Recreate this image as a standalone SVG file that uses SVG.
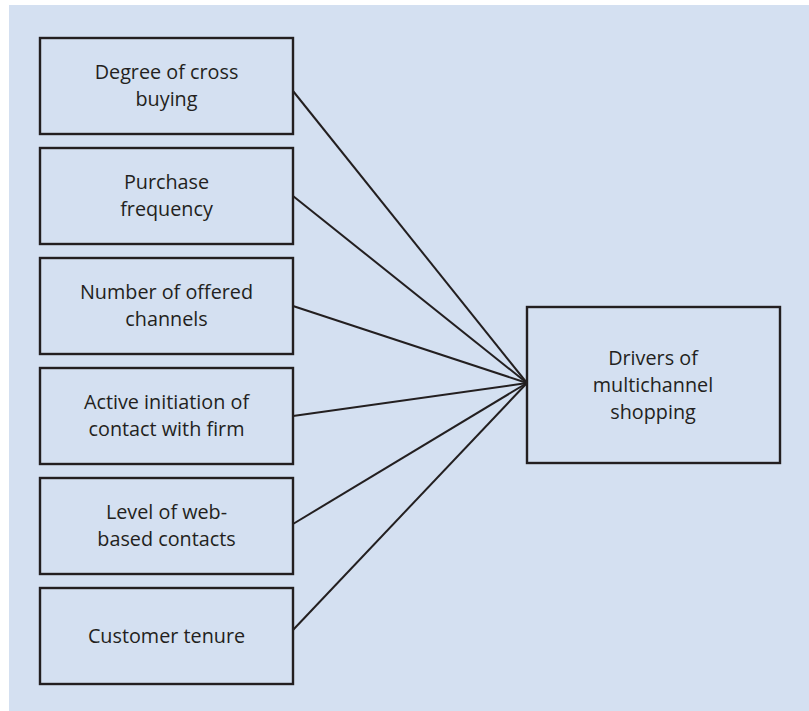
<svg xmlns="http://www.w3.org/2000/svg" width="809" height="711" viewBox="0 0 809 711">
<style>
.box{fill:none;stroke:#231f20;stroke-width:2.4}
.lbl{font-family:"Open Sans","Liberation Sans",sans-serif;font-size:19.8px;fill:#231f20;text-anchor:middle}
.con{stroke:#231f20;stroke-width:2;fill:none}
</style>
<rect x="0" y="0" width="809" height="711" fill="#ffffff"/>
<rect x="9" y="5" width="800" height="706" fill="#d4e0f1"/>
<g id="connectors">
<line class="con" x1="293" y1="91" x2="527" y2="383"/>
<line class="con" x1="293" y1="196" x2="527" y2="383"/>
<line class="con" x1="293" y1="306" x2="527" y2="383"/>
<line class="con" x1="293" y1="416" x2="527" y2="383"/>
<line class="con" x1="293" y1="524" x2="527" y2="383"/>
<line class="con" x1="293" y1="630" x2="527" y2="383"/>
</g>
<g id="n1"><rect class="box" x="40" y="38" width="253" height="96"/><text class="lbl" x="166.5" y="79">Degree of cross</text><text class="lbl" x="166.5" y="106">buying</text></g>
<g id="n2"><rect class="box" x="40" y="148" width="253" height="96"/><text class="lbl" x="166.5" y="189">Purchase</text><text class="lbl" x="166.5" y="216">frequency</text></g>
<g id="n3"><rect class="box" x="40" y="258" width="253" height="96"/><text class="lbl" x="166.5" y="299">Number of offered</text><text class="lbl" x="166.5" y="326">channels</text></g>
<g id="n4"><rect class="box" x="40" y="368" width="253" height="96"/><text class="lbl" x="166.5" y="409">Active initiation of</text><text class="lbl" x="166.5" y="436">contact with firm</text></g>
<g id="n5"><rect class="box" x="40" y="478" width="253" height="96"/><text class="lbl" x="166.5" y="519">Level of web-</text><text class="lbl" x="166.5" y="546">based contacts</text></g>
<g id="n6"><rect class="box" x="40" y="588" width="253" height="96"/><text class="lbl" x="166.5" y="642.5">Customer tenure</text></g>
<g id="target"><rect class="box" x="527" y="307" width="253" height="156"/><text class="lbl" x="653" y="365">Drivers of</text><text class="lbl" x="653" y="392">multichannel</text><text class="lbl" x="653" y="418.5">shopping</text></g>
</svg>
